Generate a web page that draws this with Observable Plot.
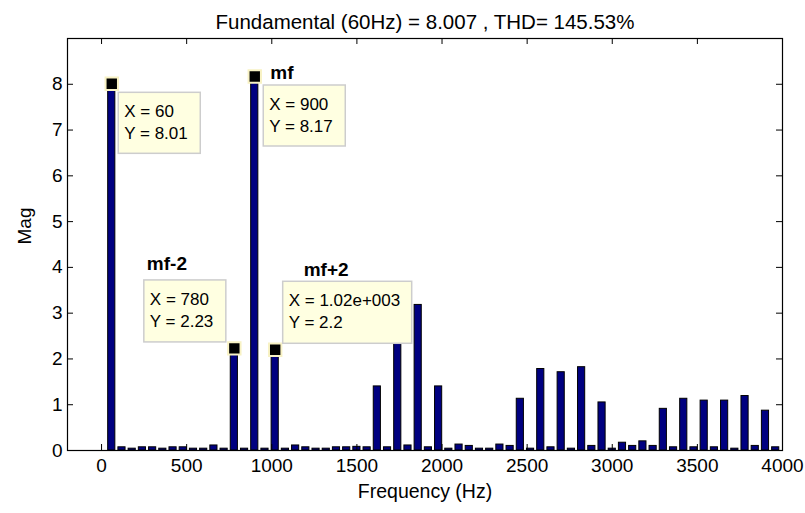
<!DOCTYPE html>
<html>
<head>
<meta charset="utf-8">
<script src="https://cdn.jsdelivr.net/npm/d3@7"></script>
<script src="https://cdn.jsdelivr.net/npm/@observablehq/plot@0.6"></script>
<style>
  html, body { margin: 0; padding: 0; background: #fff; }
  svg { display: block; }
</style>
</head>
<body>
<div id="chart"></div>
<script>
// ---------- data ----------
const titleText = ["Fundamental (60Hz) = 8.007 , THD= 145.53%"];
const xLabel = ["Frequency (Hz)"];
const yLabel = ["Mag"];

const frequencies = [
  60, 120, 180, 240, 300, 360, 420, 480, 540, 600,
  660, 720, 780, 840, 900, 960, 1020, 1080, 1140, 1200,
  1260, 1320, 1380, 1440, 1500, 1560, 1620, 1680, 1740, 1800,
  1860, 1920, 1980, 2040, 2100, 2160, 2220, 2280, 2340, 2400,
  2460, 2520, 2580, 2640, 2700, 2760, 2820, 2880, 2940, 3000,
  3060, 3120, 3180, 3240, 3300, 3360, 3420, 3480, 3540, 3600,
  3660, 3720, 3780, 3840, 3900, 3960
];
const magnitudes = [
  8.01, 0.07, 0.04, 0.07, 0.07, 0.04, 0.07, 0.07, 0.04, 0.04,
  0.11, 0.04, 2.23, 0.04, 8.17, 0.04, 2.20, 0.04, 0.11, 0.07,
  0.04, 0.04, 0.07, 0.07, 0.08, 0.07, 1.40, 0.07, 3.10, 0.11,
  3.18, 0.07, 1.40, 0.04, 0.13, 0.10, 0.04, 0.04, 0.13, 0.10,
  1.13, 0.04, 1.78, 0.07, 1.71, 0.04, 1.82, 0.10, 1.05, 0.04,
  0.17, 0.10, 0.20, 0.10, 0.91, 0.07, 1.13, 0.07, 1.09, 0.07,
  1.09, 0.04, 1.19, 0.10, 0.87, 0.07
];

const xTicks = [0, 500, 1000, 1500, 2000, 2500, 3000, 3500, 4000];
const yTicks = [0, 1, 2, 3, 4, 5, 6, 7, 8];

const tipFreqs = [60, 900, 780, 1020];
const tipMags = [8.01, 8.17, 2.23, 2.2];
const tipXText = ["X = 60", "X = 900", "X = 780", "X = 1.02e+003"];
const tipYText = ["Y = 8.01", "Y = 8.17", "Y = 2.23", "Y = 2.2"];
const tipNames = ["", "mf", "mf-2", "mf+2"];

// ---------- layout / style ----------
const W = 805, H = 513;
const mL = 67, mR = 23, mT = 38, mB = 63;
const frameH = H - mT - mB;
const frameW = W - mL - mR;
const halfBar = 21;
const font = "'Liberation Sans', Arial, Helvetica, sans-serif";

// datatip box offsets relative to marker (pixels)
const boxLayout = [
  {dx: 7,   dy: 9,   w: 82,  h: 61},
  {dx: 9,   dy: 9,   w: 82,  h: 61},
  {dx: -90, dy: -68, w: 82,  h: 62},
  {dx: 8,   dy: -68, w: 129, h: 62}
];
// name label offsets relative to marker (pixels)
const nameLayout = [
  {dx: 0, dy: 0},
  {dx: 16, dy: -4},
  {dx: -87, dy: -85},
  {dx: 29, dy: -80}
];

const bars = frequencies.map((f, i) => ({f, m: magnitudes[i]}));
const tips = tipFreqs.map((f, i) => ({f, m: tipMags[i], name: tipNames[i]}));

const chart = Plot.plot({
  width: W,
  height: H,
  marginLeft: mL, marginRight: mR, marginTop: mT, marginBottom: mB,
  style: {fontFamily: font, fontSize: "19px", background: "#fff", color: "#000", overflow: "visible"},
  x: {domain: [-200, 4000]},
  y: {domain: [0, 9]},
  marks: [
    Plot.rect(bars, {
      x1: d => d.f - halfBar, x2: d => d.f + halfBar,
      y1: 0, y2: "m",
      fill: "#000080", stroke: "#000", strokeWidth: 1
    }),
    // inward ticks on all four sides
    Plot.tickX(xTicks, {x: d => d, insetTop: frameH - 6, stroke: "#000"}),
    Plot.tickX(xTicks, {x: d => d, insetBottom: frameH - 6, stroke: "#000"}),
    Plot.tickY(yTicks, {y: d => d, insetRight: frameW - 6, stroke: "#000"}),
    Plot.tickY(yTicks, {y: d => d, insetLeft: frameW - 6, stroke: "#000"}),
    Plot.frame({stroke: "#000", strokeWidth: 1.2}),
    Plot.axisX(xTicks, {tickSize: 0, tickPadding: 8, label: null, fontSize: 19, fill: "#000", tickFormat: d => String(d)}),
    Plot.axisY(yTicks, {tickSize: 0, tickPadding: 5, label: null, fontSize: 19, fill: "#000", tickFormat: d => String(d)}),
    Plot.text(titleText, {frameAnchor: "top", dy: -24, fontSize: 20.5, fill: "#000", text: d => d}),
    Plot.text(xLabel, {frameAnchor: "bottom", dy: 47, fontSize: 19.5, fill: "#000", text: d => d}),
    Plot.text(yLabel, {frameAnchor: "left", dx: -43, rotate: -90, fontSize: 19, fill: "#000", text: d => d}),
    Plot.dot(tips, {x: "f", y: "m", symbol: "square", r: 7, fill: "#000", stroke: "#f8f2c4", strokeWidth: 2})
  ]
});

document.getElementById("chart").appendChild(chart);

// datatip boxes and name labels, positioned through Plot's own scales
const sx = chart.scale("x"), sy = chart.scale("y");
const layer = d3.select(chart).append("g")
  .attr("font-family", font)
  .attr("text-anchor", "start");
tips.forEach((t, i) => {
  const px = sx.apply(t.f), py = sy.apply(t.m);
  const b = boxLayout[i];
  layer.append("rect")
    .attr("x", px + b.dx).attr("y", py + b.dy)
    .attr("width", b.w).attr("height", b.h)
    .attr("fill", "#ffffe1").attr("stroke", "#cdcdcd").attr("stroke-width", 1.5);
  layer.append("text")
    .attr("text-anchor", "start")
    .attr("x", px + b.dx + 6).attr("y", py + b.dy + 19).attr("dy", "0.35em")
    .attr("font-size", 17).attr("fill", "#000").text(tipXText[i]);
  layer.append("text")
    .attr("text-anchor", "start")
    .attr("x", px + b.dx + 6).attr("y", py + b.dy + 41).attr("dy", "0.35em")
    .attr("font-size", 17).attr("fill", "#000").text(tipYText[i]);
  if (t.name) {
    const n = nameLayout[i];
    layer.append("text")
      .attr("text-anchor", "start")
      .attr("x", px + n.dx).attr("y", py + n.dy).attr("dy", "0.35em")
      .attr("font-size", 19).attr("font-weight", "bold").attr("fill", "#000").text(t.name);
  }
});
</script>
</body>
</html>
